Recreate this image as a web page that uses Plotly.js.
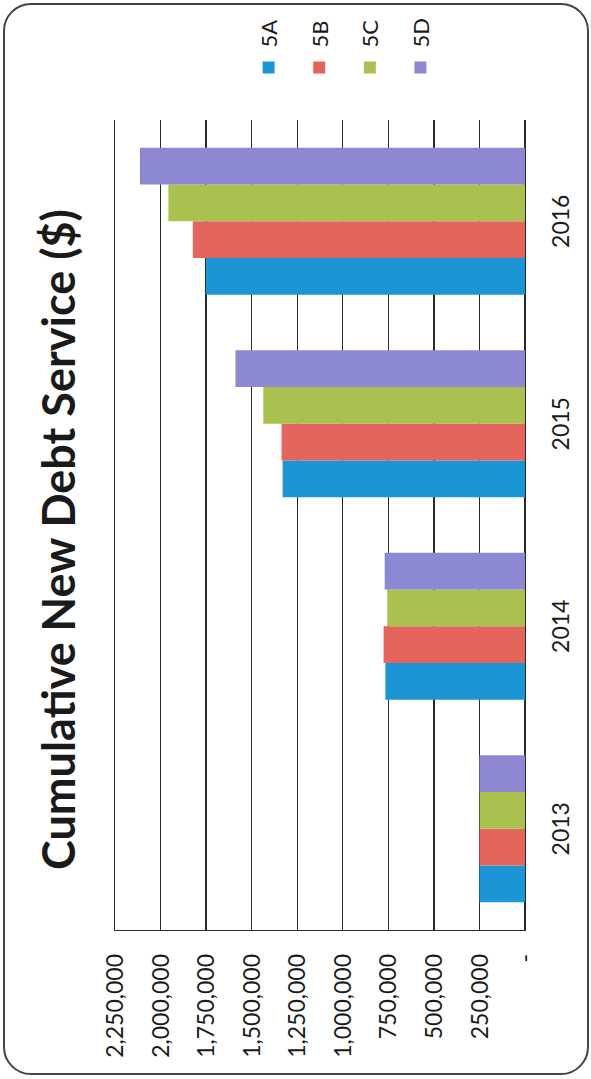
<!DOCTYPE html>
<html>
<head>
<meta charset="utf-8">
<script src="https://cdn.plot.ly/plotly-3.0.1.min.js"></script>
<style>
  html, body { margin: 0; padding: 0; background: #ffffff; width: 591px; height: 1079px; overflow: hidden; }
  #chart { position: absolute; left: 0; top: 0; width: 1079px; height: 591px;
           transform-origin: 0 0; transform: translate(0px, 1079px) rotate(-90deg); }
  #frame { position: absolute; left: 3px; top: 3px; width: 586px; height: 1072px; box-sizing: border-box;
           border: 2px solid #444444; border-radius: 28px; pointer-events: none; }
</style>
</head>
<body>
<div id="chart"></div>
<div id="frame"></div>
<script>
const categories = ['2013', '2014', '2015', '2016'];
const seriesNames = ['5A', '5B', '5C', '5D'];
const values5A = [250000, 766000, 1330000, 1751000];
const values5B = [250000, 776000, 1336000, 1823000];
const values5C = [249000, 756000, 1436000, 1957000];
const values5D = [250000, 770000, 1589000, 2113000];
const seriesColors = ['#1B95D5', '#E4655B', '#A9C24F', '#8C89D2'];
const tickValues = [0, 250000, 500000, 750000, 1000000, 1250000, 1500000, 1750000, 2000000, 2250000];
const tickLabels = ['-', '250,000', '500,000', '750,000', '1,000,000', '1,250,000', '1,500,000', '1,750,000', '2,000,000', '2,250,000'];

const allValues = [values5A, values5B, values5C, values5D];
const traces = allValues.map((vals, i) => ({
  type: 'bar',
  name: seriesNames[i],
  x: categories,
  y: vals,
  legendgroup: 'g' + i,
  marker: { color: seriesColors[i], line: { width: 0 } },
  hoverinfo: 'skip'
}));

const lineColor = '#2a2a2a';
const layout = {
  width: 1079,
  height: 591,
  margin: { l: 149, r: 120, t: 115, b: 66, pad: 0 },
  paper_bgcolor: 'rgba(0,0,0,0)',
  plot_bgcolor: 'rgba(0,0,0,0)',
  font: { family: 'Lato, sans-serif', color: '#1a1a1a' },
  barmode: 'group',
  bargap: 0.275,
  bargroupgap: 0,
  title: {
    text: 'Cumulative New Debt Service ($)',
    font: { family: 'Lato, sans-serif', size: 45, weight: 'bold', color: '#1a1a1a' },
    x: 0.5, xref: 'container', xanchor: 'center',
    y: 0.9, yref: 'container', yanchor: 'middle'
  },
  xaxis: {
    type: 'category',
    showgrid: false,
    showline: true,
    mirror: true,
    linecolor: lineColor,
    linewidth: 1.4,
    zeroline: false,
    ticks: '',
    tickfont: { size: 23, color: '#1a1a1a' },
    ticklabelstandoff: 15
  },
  yaxis: {
    range: [0, 2250000],
    tickvals: tickValues,
    ticktext: tickLabels,
    showgrid: true,
    gridcolor: lineColor,
    gridwidth: 1.4,
    zeroline: true,
    zerolinecolor: lineColor,
    zerolinewidth: 1.4,
    showline: true,
    linecolor: lineColor,
    linewidth: 1.4,
    ticks: '',
    tickfont: { size: 23, color: '#1a1a1a' },
    ticklabelstandoff: 18
  },
  showlegend: true,
  legend: {
    x: 1.04, xanchor: 'left',
    y: 0.676, yanchor: 'top',
    font: { size: 22, color: '#1a1a1a' },
    tracegroupgap: 19,
    bgcolor: 'rgba(0,0,0,0)'
  }
};

Plotly.newPlot('chart', traces, layout, { staticPlot: true, displayModeBar: false });
</script>
</body>
</html>
